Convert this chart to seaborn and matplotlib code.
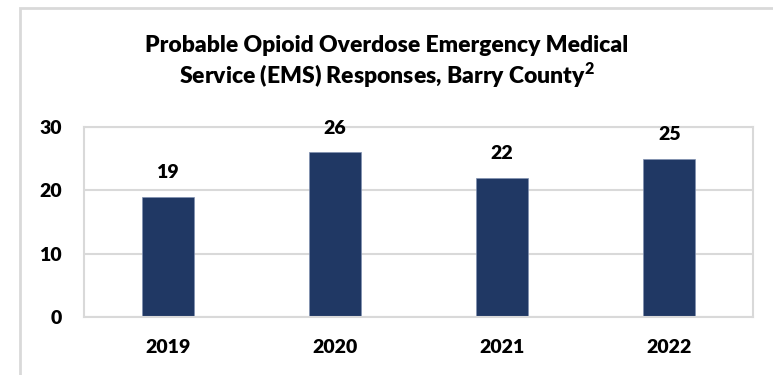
import matplotlib
matplotlib.use("Agg")
import matplotlib.pyplot as plt
import seaborn as sns
import pandas as pd
from matplotlib.patches import Rectangle

years = ["2019", "2020", "2021", "2022"]
responses = [19, 26, 22, 25]
y_ticks = [0, 10, 20, 30]
title_line1 = "Probable Opioid Overdose Emergency Medical"
title_line2 = r"Service (EMS) Responses, Barry County$^{\mathbf{2}}$"

sns.set_theme(style="white")
plt.rcParams["font.family"] = ["Lato", "DejaVu Sans"]
plt.rcParams["font.weight"] = "heavy"
plt.rcParams["mathtext.fontset"] = "custom"
plt.rcParams["mathtext.bf"] = "Lato:heavy"
plt.rcParams["mathtext.rm"] = "Lato:heavy"

W, H = 773, 375
fig = plt.figure(figsize=(W / 100, H / 100), dpi=100)
ax = fig.add_axes([84 / W, 1 - 317 / H, (753 - 84) / W, (317 - 127) / H])

df = pd.DataFrame({"year": years, "responses": responses})
bar_color = "#203864"
sns.barplot(data=df, x="year", y="responses", color=bar_color, width=0.31,
            saturation=1, edgecolor="#8090b0", linewidth=0.5, ax=ax)

ax.set_ylim(0, 30)
ax.set_yticks(y_ticks)
ax.set_xlim(-0.5, len(years) - 0.5)
ax.grid(axis="y", color="#d9d9d9", linewidth=1.5)
ax.set_axisbelow(True)
for s in ax.spines.values():
    s.set_visible(True)
    s.set_color("#d9d9d9")
    s.set_linewidth(1.5)
ax.set_xlabel("")
ax.set_ylabel("")
ax.tick_params(axis="y", labelsize=14, pad=16, length=0, colors="black")
ax.tick_params(axis="x", labelsize=14, pad=16, length=0, colors="black")
for lbl in ax.get_xticklabels() + ax.get_yticklabels():
    lbl.set_fontweight("heavy")

for i, v in enumerate(responses):
    ax.annotate(str(v), xy=(i, v), xytext=(0, 11), textcoords="offset points",
                ha="center", va="bottom", fontsize=14, fontweight="heavy",
                color="black")

fig.text(0.5, 1 - 45 / H, title_line1, ha="center", va="center",
         fontsize=16.5, fontweight="heavy", color="black")
fig.text(0.5, 1 - 75 / H, title_line2, ha="center", va="center",
         fontsize=16.5, fontweight="heavy", color="black")

border = Rectangle((20 / W, -0.2), 1.2, 1.2 - 8 / H, transform=fig.transFigure,
                   fill=False, edgecolor="#d9d9d9", linewidth=2, zorder=-1)
fig.patches.append(border)

fig.savefig("out.png", dpi=100)
